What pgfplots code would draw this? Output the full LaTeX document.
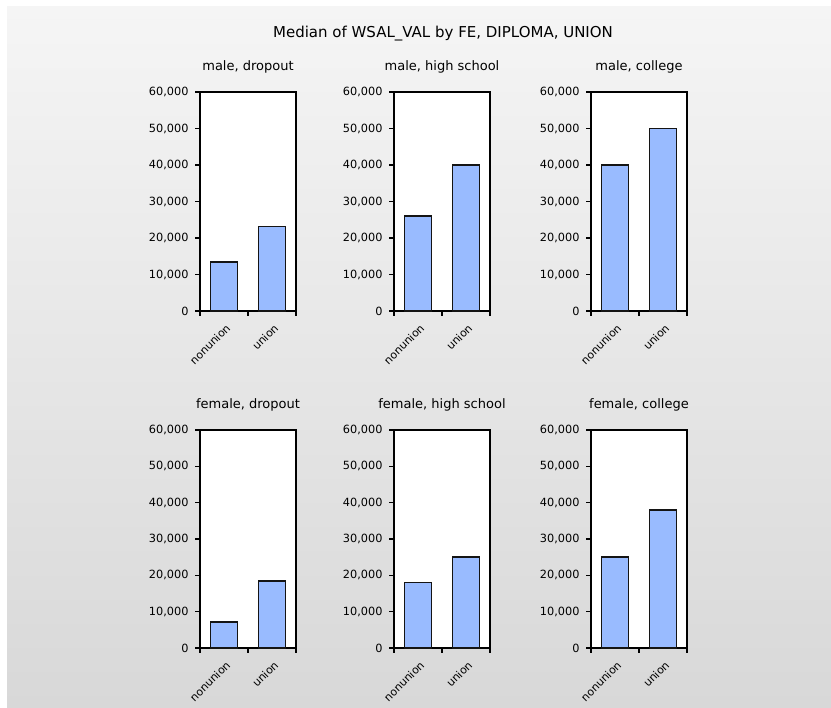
\documentclass[border=0pt]{standalone}
\usepackage{pgfplots}
\pgfplotsset{compat=1.18}
\usepackage{fontspec}
\setmainfont{DejaVu Sans}
\definecolor{bgtop}{RGB}{245,245,245}
\definecolor{bgbot}{RGB}{216,216,216}
\definecolor{barfill}{RGB}{153,187,255}
\definecolor{baredge}{RGB}{20,20,20}
\pgfplotsset{
  panel/.style={
    scale only axis, width=96pt,
    xmin=-0.5, xmax=1.5, ymin=0, ymax=60000,
    axis background/.style={fill=white},
    axis line style={black, line width=1.2pt},
    xtick={0,1}, xticklabels={nonunion,union},
    minor xtick={-0.5,0.5,1.5},
    ytick={0,10000,20000,30000,40000,50000,60000},
    xtick pos=bottom, ytick pos=left,
    tick align=outside,
    major tick length=5pt, minor tick length=5pt,
    major x tick style={draw=none},
    every tick/.style={black, line width=1.2pt},
    minor x tick style={black, line width=1.2pt},
    scaled y ticks=false,
    /pgf/number format/.cd, 1000 sep={,}, assume math mode=true,
    /pgfplots/.cd,
    yticklabel style={font=\fontsize{11.3}{13}\selectfont, xshift=-3pt},
    xticklabel style={font=\fontsize{11}{13}\selectfont, rotate=45, anchor=north east, inner sep=1pt, xshift=-3.25pt, yshift=-4.7pt},
    title style={font=\fontsize{13}{15}\selectfont, at={(0.5,1)}, anchor=center, yshift=19pt},
    ybar, bar width=27pt,
    clip=false,
    every axis plot/.append style={fill=barfill, draw=baredge, line width=1.6pt},
  },
}
\begin{document}
\begin{tikzpicture}[x=1pt,y=1pt]
\fill[white] (0,0) rectangle (831,708);
\shade[top color=bgtop, bottom color=bgbot] (7,0) rectangle (831,701);
\node[font=\fontsize{15}{17}\selectfont] at (443,674) {Median of WSAL\_VAL by FE, DIPLOMA, UNION};
% row 1
\begin{axis}[panel, at={(200pt,397pt)}, anchor=south west, height=219pt, title={male, dropout}]
\addplot[fill=barfill, draw=baredge, line width=1.6pt] coordinates {(0,13500) (1,23200)};
\end{axis}
\begin{axis}[panel, at={(394pt,397pt)}, anchor=south west, height=219pt, title={male, high school}]
\addplot[fill=barfill, draw=baredge, line width=1.6pt] coordinates {(0,26000) (1,40000)};
\end{axis}
\begin{axis}[panel, at={(591pt,397pt)}, anchor=south west, height=219pt, title={male, college}]
\addplot[fill=barfill, draw=baredge, line width=1.6pt] coordinates {(0,40000) (1,50000)};
\end{axis}
% row 2
\begin{axis}[panel, at={(200pt,60pt)}, anchor=south west, height=218pt, title={female, dropout}]
\addplot[fill=barfill, draw=baredge, line width=1.6pt] coordinates {(0,7200) (1,18500)};
\end{axis}
\begin{axis}[panel, at={(394pt,60pt)}, anchor=south west, height=218pt, title={female, high school}]
\addplot[fill=barfill, draw=baredge, line width=1.6pt] coordinates {(0,18000) (1,25000)};
\end{axis}
\begin{axis}[panel, at={(591pt,60pt)}, anchor=south west, height=218pt, title={female, college}]
\addplot[fill=barfill, draw=baredge, line width=1.6pt] coordinates {(0,25000) (1,38000)};
\end{axis}
\useasboundingbox (0,0) rectangle (831,708);
\end{tikzpicture}
\end{document}
